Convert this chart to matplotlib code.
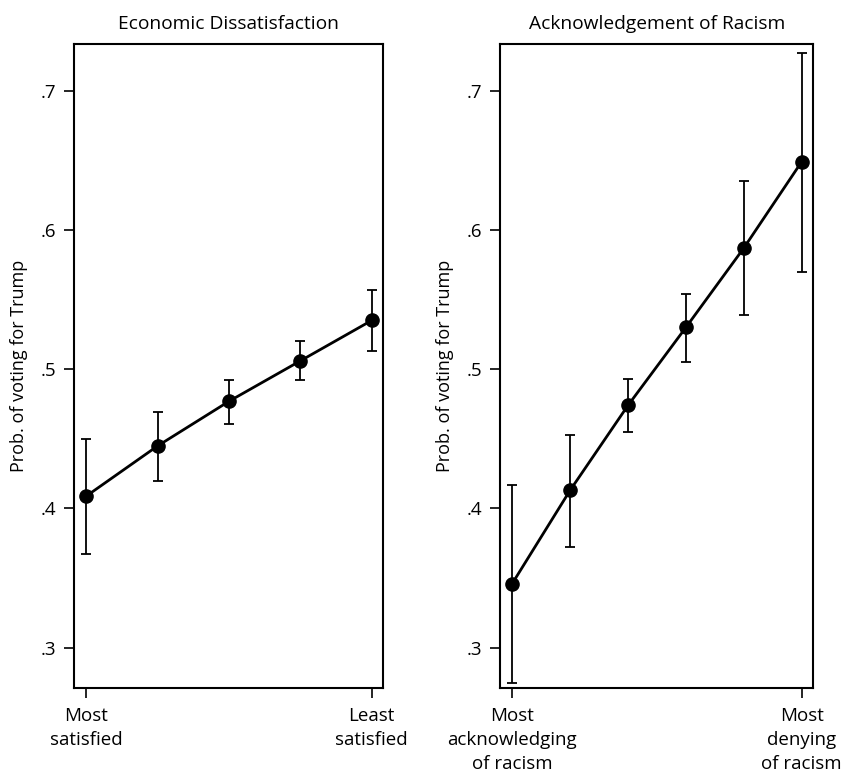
import matplotlib
matplotlib.use("Agg")
import matplotlib.pyplot as plt

plt.rcParams['font.family'] = ['Open Sans', 'DejaVu Sans']

# Economic dissatisfaction panel
econ_x = [1, 2, 3, 4, 5]
econ_prob = [0.409, 0.445, 0.477, 0.506, 0.535]
econ_lo = [0.367, 0.420, 0.461, 0.492, 0.513]
econ_hi = [0.450, 0.469, 0.492, 0.520, 0.557]
econ_ticklabels = ["Most\nsatisfied", "Least\nsatisfied"]

# Acknowledgement of racism panel
race_x = [1, 2, 3, 4, 5, 6]
race_prob = [0.346, 0.413, 0.474, 0.530, 0.587, 0.649]
race_lo = [0.275, 0.372, 0.455, 0.505, 0.539, 0.570]
race_hi = [0.417, 0.453, 0.493, 0.554, 0.635, 0.727]
race_ticklabels = ["Most\nacknowledging\nof racism", "Most\ndenying\nof racism"]

yticks = [0.3, 0.4, 0.5, 0.6, 0.7]
ytick_labels = [".3", ".4", ".5", ".6", ".7"]

fig = plt.figure(figsize=(8.44, 7.79), dpi=100)
ax1 = fig.add_axes([0.0877, 0.1168, 0.3657, 0.8267])
ax2 = fig.add_axes([0.5924, 0.1168, 0.3712, 0.8267])


def draw_panel(ax, x, prob, lo, hi, ticklabels, title, xlim):
    yerr = [[p - l for p, l in zip(prob, lo)], [h - p for p, h in zip(prob, hi)]]
    ax.errorbar(x, prob, yerr=yerr, fmt="none", ecolor="black",
                elinewidth=1.3, capsize=3.6, capthick=1.3, zorder=2)
    ax.plot(x, prob, color="black", linewidth=2, marker="o",
            markersize=9.5, zorder=3)
    ax.set_xlim(*xlim)
    ax.set_ylim(0.2711, 0.7335)
    ax.set_xticks([x[0], x[-1]])
    ax.set_xticklabels(ticklabels, fontsize=13.5, linespacing=1.42)
    ax.set_yticks(yticks)
    ax.set_yticklabels(ytick_labels, fontsize=13.5)
    ax.tick_params(axis="both", length=7, width=1.2, pad=6, color="black")
    ax.tick_params(axis="x", pad=7)
    for s in ax.spines.values():
        s.set_linewidth(1.5)
        s.set_color("black")
    ax.set_ylabel("Prob. of voting for Trump", fontsize=13, labelpad=9)
    ax.set_title(title, fontsize=13.8, pad=11)


draw_panel(ax1, econ_x, econ_prob, econ_lo, econ_hi, econ_ticklabels,
           "Economic Dissatisfaction", (0.825, 5.155))
draw_panel(ax2, race_x, race_prob, race_lo, race_hi, race_ticklabels,
           "Acknowledgement of Racism", (0.79, 6.2))

fig.savefig("out.png", dpi=100)
